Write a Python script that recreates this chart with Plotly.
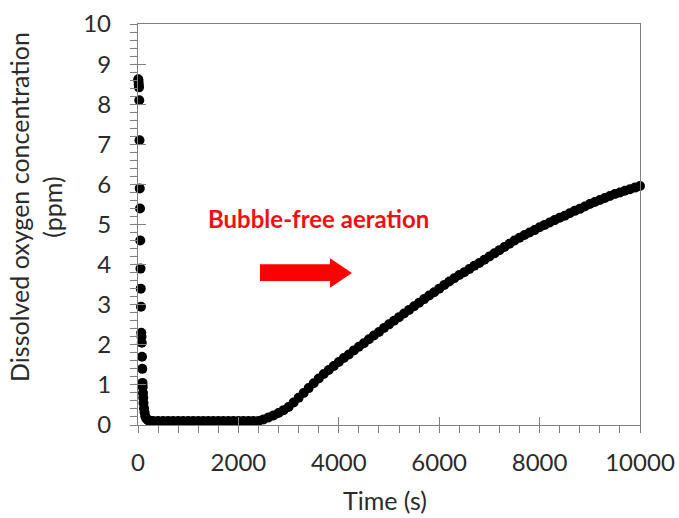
import plotly.graph_objects as go

# ---- data ----
time_drop = [5, 10, 15, 20, 25, 30, 35, 40, 45, 50, 55, 60, 65, 70, 75, 80, 85, 90,
             95, 100, 105, 110, 120, 130, 145, 165, 190, 220, 260, 300]
do_drop = [8.62, 8.58, 8.5, 8.42, 8.1, 7.1, 5.9, 5.4, 4.6, 3.9, 3.4, 2.95, 2.3, 2.2,
           2.05, 1.7, 1.4, 1.05, 0.95, 0.8, 0.68, 0.55, 0.42, 0.32, 0.22, 0.16, 0.13,
           0.11, 0.1, 0.1]

time_flat = [400, 500, 600, 700, 800, 900, 1000, 1100, 1200, 1300, 1400, 1500, 1600,
             1700, 1800, 1900, 2000, 2100, 2200, 2300, 2400]
do_flat = [0.1, 0.1, 0.1, 0.1, 0.1, 0.1, 0.1, 0.1, 0.1, 0.1, 0.1, 0.1, 0.1,
           0.1, 0.1, 0.1, 0.1, 0.1, 0.1, 0.1, 0.1]

time_rise = [2500, 2600, 2700, 2800, 2900, 3000, 3100, 3200, 3300, 3400, 3500, 3600,
             3700, 3800, 3900, 4000, 4100, 4200, 4300, 4400, 4500, 4600, 4700, 4800,
             4900, 5000, 5100, 5200, 5300, 5400, 5500, 5600, 5700, 5800, 5900, 6000,
             6100, 6200, 6300, 6400, 6500, 6600, 6700, 6800, 6900, 7000, 7100, 7200,
             7300, 7400, 7500, 7600, 7700, 7800, 7900, 8000, 8100, 8200, 8300, 8400,
             8500, 8600, 8700, 8800, 8900, 9000, 9100, 9200, 9300, 9400, 9500, 9600,
             9700, 9800, 9900, 10000]
do_rise = [0.14, 0.19, 0.24, 0.3, 0.37, 0.45, 0.56, 0.68, 0.8, 0.92, 1.04, 1.16,
           1.27, 1.37, 1.47, 1.57, 1.67, 1.76, 1.86, 1.95, 2.04, 2.14, 2.23, 2.32,
           2.42, 2.51, 2.6, 2.69, 2.78, 2.87, 2.96, 3.05, 3.14, 3.23, 3.31, 3.4,
           3.49, 3.58, 3.66, 3.74, 3.81, 3.89, 3.97, 4.04, 4.12, 4.2, 4.28, 4.36,
           4.44, 4.52, 4.6, 4.67, 4.74, 4.8, 4.86, 4.93, 4.99, 5.05, 5.11, 5.17,
           5.22, 5.28, 5.34, 5.39, 5.45, 5.51, 5.56, 5.61, 5.66, 5.71, 5.76, 5.8,
           5.84, 5.88, 5.92, 5.96]

time_all = time_drop + time_flat + time_rise
do_all = do_drop + do_flat + do_rise

x_range = [0, 10000]
y_range = [0, 10]
x_title = "Time (s)"
y_title = "Dissolved oxygen concentration<br>(ppm)"
note_text = "Bubble-free aeration"

FONT = "Lato"
AX = "#7f7f7f"
TXT = "#2b2b2b"

fig = go.Figure()
fig.add_trace(go.Scatter(x=time_all, y=do_all, mode="markers",
                         marker=dict(color="black", size=10), cliponaxis=False,
                         showlegend=False))
# empty trace to activate the overlay axes (inner half of crossing ticks)
fig.add_trace(go.Scatter(x=[None], y=[None], xaxis="x2", yaxis="y2",
                         mode="markers", showlegend=False))

common = dict(showgrid=False, zeroline=False, linecolor=AX, linewidth=1.3,
              tickcolor=AX, tickwidth=1.3, automargin=False)

fig.update_layout(
    width=679, height=518,
    margin=dict(l=138, r=39, t=24, b=93),
    paper_bgcolor="white", plot_bgcolor="white",
    font=dict(family=FONT, color=TXT),
    xaxis=dict(range=x_range, dtick=2000, tick0=0, ticks="outside", ticklen=7,
               showline=True, mirror=True, tickfont=dict(size=24, color=TXT),
               ticklabelstandoff=9, tickformat="d",
               minor=dict(ticks="outside", ticklen=7, dtick=400, tickcolor=AX,
                          tickwidth=1.3),
               **common),
    yaxis=dict(range=y_range, dtick=1, tick0=0, ticks="outside", ticklen=7,
               showline=True, mirror=True, tickfont=dict(size=24, color=TXT),
               ticklabelstandoff=14, tickformat="d",
               minor=dict(ticks="outside", ticklen=7, dtick=0.2, tickcolor=AX,
                          tickwidth=1.3),
               **common),
    xaxis2=dict(range=x_range, overlaying="x", anchor="y2", side="bottom",
                dtick=2000, tick0=0, ticks="inside", ticklen=8,
                showticklabels=False, showline=False, showgrid=False,
                zeroline=False, tickcolor=AX, tickwidth=1.3, automargin=False),
    yaxis2=dict(range=y_range, overlaying="y", anchor="x2", side="left",
                dtick=1, tick0=0, ticks="inside", ticklen=8,
                showticklabels=False, showline=False, showgrid=False,
                zeroline=False, tickcolor=AX, tickwidth=1.3, automargin=False),
)

fig.add_annotation(text=x_title, xref="paper", yref="paper", x=0.492, y=-0.187,
                   showarrow=False, font=dict(size=25, color=TXT),
                   xanchor="center", yanchor="middle")
fig.add_annotation(text=y_title, xref="paper", yref="paper", x=-0.203, y=0.544,
                   showarrow=False, textangle=-90, font=dict(size=25, color=TXT),
                   xanchor="center", yanchor="middle")
fig.add_annotation(text="<b>" + note_text + "</b>", xref="x", yref="y",
                   x=3596, y=5.16, showarrow=False,
                   font=dict(size=24, color="#ee1111"),
                   xanchor="center", yanchor="middle")
# block arrow
fig.add_shape(type="path", xref="x", yref="y",
              path="M 2430 3.59 L 3825 3.59 L 3825 3.42 L 4263 3.79 L 3825 4.16 "
                   "L 3825 4.01 L 2430 4.01 Z",
              fillcolor="#ff0000", line=dict(width=0))

# remove the page's default 8px body margin so the figure fills the window
fig.write_html("out.html",
               config={"displayModeBar": False},
               post_script="document.body.style.margin='0';"
                           "document.body.style.overflow='hidden';")
